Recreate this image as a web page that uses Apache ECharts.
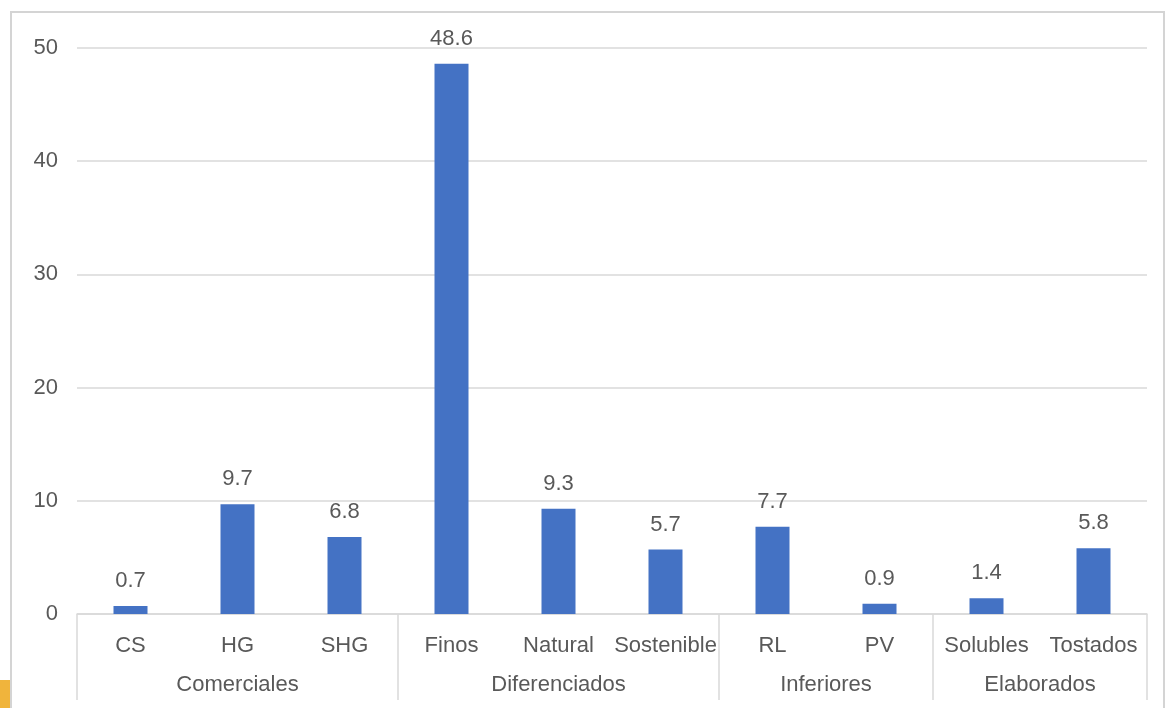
<!DOCTYPE html>
<html>
<head>
<meta charset="utf-8">
<script src="https://cdn.jsdelivr.net/npm/echarts@6/dist/echarts.min.js"></script>
<style>
  html, body { margin: 0; padding: 0; background: #ffffff; }
  #chart { width: 1170px; height: 708px; }
</style>
</head>
<body>
<div id="chart"></div>
<script>
// ---- data ----
const categories = ['CS', 'HG', 'SHG', 'Finos', 'Natural', 'Sostenible', 'RL', 'PV', 'Solubles', 'Tostados'];
const values = [0.7, 9.7, 6.8, 48.6, 9.3, 5.7, 7.7, 0.9, 1.4, 5.8];
const groupNames = ['Comerciales', 'Diferenciados', 'Inferiores', 'Elaborados'];
const groupSpans = [3, 3, 2, 2];
const yTicks = [0, 10, 20, 30, 40, 50];

// group starts & centers derived from spans
const groupStarts = [];
const groupCenters = {};
let acc = 0;
groupSpans.forEach((s, i) => {
  groupStarts.push(acc);
  groupCenters[(acc + s / 2).toFixed(1)] = groupNames[i];
  acc += s;
});

const textColor = '#595959';
const lineColor = '#d9d9d9';
const fontFamily = '"Liberation Sans", Arial, sans-serif';
const fs = 22;

const chart = echarts.init(document.getElementById('chart'), null, { renderer: 'canvas' });
chart.setOption({
  animation: false,
  backgroundColor: '#ffffff',
  textStyle: { fontFamily: fontFamily },
  graphic: [
    { type: 'rect', z: -10, silent: true, shape: { x: 11, y: 12, width: 1153, height: 730 },
      style: { fill: '#ffffff', stroke: '#d4d4d4', lineWidth: 2 } },
    { type: 'rect', z: 10, silent: true, shape: { x: 0, y: 680, width: 10, height: 28 },
      style: { fill: '#F0B43C' } }
  ],
  grid: { left: 77, right: 23, top: 48, bottom: 94, containLabel: false },
  xAxis: [
    {
      type: 'category',
      data: categories,
      boundaryGap: true,
      axisLine: { show: true, lineStyle: { color: lineColor, width: 1.5 } },
      axisTick: {
        show: true, length: 86,
        interval: function (idx) { return groupStarts.indexOf(idx) >= 0; },
        lineStyle: { color: lineColor, width: 1.5 }
      },
      axisLabel: { interval: 0, color: textColor, fontSize: fs, margin: 21, fontFamily: fontFamily },
      splitLine: { show: false }
    },
    {
      type: 'value',
      position: 'bottom',
      min: 0, max: categories.length, interval: 0.5,
      axisLine: { show: false }, axisTick: { show: false }, splitLine: { show: false },
      axisLabel: {
        color: textColor, fontSize: fs, margin: 60, fontFamily: fontFamily,
        showMinLabel: true, showMaxLabel: true,
        formatter: function (v) { return groupCenters[Number(v).toFixed(1)] || ''; }
      }
    }
  ],
  yAxis: {
    type: 'value',
    min: yTicks[0], max: yTicks[yTicks.length - 1], interval: yTicks[1] - yTicks[0],
    axisLine: { show: false }, axisTick: { show: false },
    axisLabel: { color: textColor, fontSize: fs, margin: 19, fontFamily: fontFamily },
    splitLine: { show: true, lineStyle: { color: lineColor, width: 1.5 } }
  },
  series: [{
    type: 'bar',
    xAxisIndex: 0, yAxisIndex: 0,
    data: values,
    barWidth: 34,
    itemStyle: { color: '#4472C4' },
    label: {
      show: true, position: 'top', distance: 14,
      color: textColor, fontSize: fs, fontFamily: fontFamily,
      formatter: function (p) { return p.value.toFixed(1); }
    }
  }]
});
</script>
</body>
</html>
